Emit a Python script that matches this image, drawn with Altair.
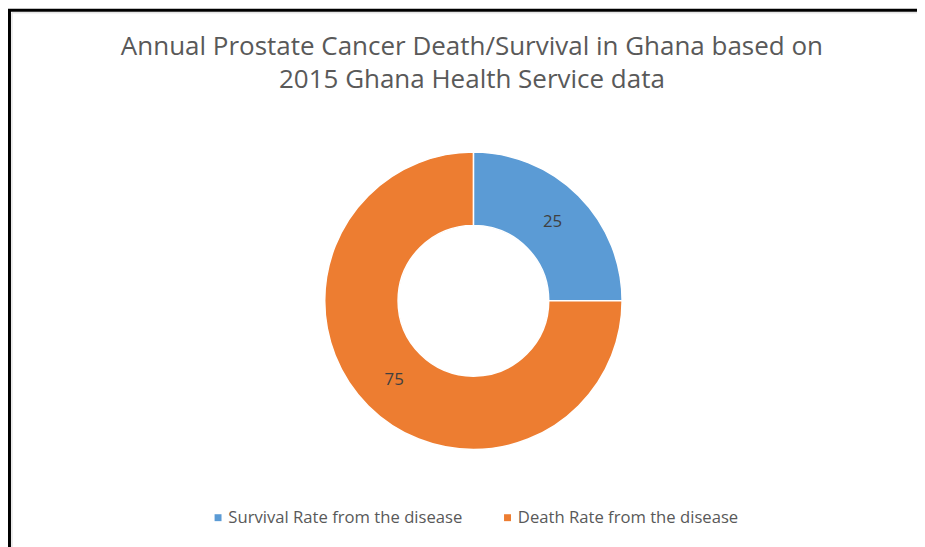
import altair as alt
import pandas as pd

categories = ["Survival Rate from the disease", "Death Rate from the disease"]
values = [25, 75]
order = [1, 2]
colors = ["#5B9BD5", "#ED7D31"]
title_lines = ["Annual Prostate Cancer Death/Survival in Ghana based on",
               "2015 Ghana Health Service data"]

df = pd.DataFrame({"category": categories, "value": values, "order": order})
title_df = pd.DataFrame({"t": [0]})

FONT = "Open Sans"
CX, CY = 469.5, 293

base = alt.Chart(df).encode(
    theta=alt.Theta("value:Q", stack=True),
    order=alt.Order("order:Q"),
)

arcs = base.mark_arc(outerRadius=150, innerRadius=76, stroke="white", strokeWidth=1.5,
                     x=CX, y=CY).encode(
    color=alt.Color("category:N",
                    scale=alt.Scale(domain=categories, range=colors),
                    sort=categories,
                    legend=alt.Legend(title=None, orient="none", direction="horizontal",
                                      legendX=203.5, legendY=503,
                                      symbolType="square", symbolSize=49,
                                      symbolStrokeWidth=0,
                                      labelFont=FONT, labelFontSize=16.8,
                                      labelColor="#595959", labelOffset=2,
                                      labelLimit=0,
                                      columnPadding=37)),
)

labels = base.mark_text(radius=113, x=CX, y=CY, font=FONT, fontSize=17,
                        color="#404040").encode(text="value:Q")

title = alt.Chart(title_df).mark_text(
    text=title_lines, font=FONT, fontSize=26.2, color="#595959", lineHeight=33,
    baseline="alphabetic", align="center"
).encode(x=alt.value(468), y=alt.value(45))

border = alt.Chart(title_df).mark_rect(fill=None, stroke="black", strokeWidth=3).encode(
    x=alt.value(1.5), x2=alt.value(1200), y=alt.value(0), y2=alt.value(1200)
)
inner_line = alt.Chart(title_df).mark_rect(fill=None, stroke="#d9d9d9", strokeWidth=1).encode(
    x=alt.value(4), x2=alt.value(1200), y=alt.value(2.5), y2=alt.value(1200)
)

chart = alt.layer(border, inner_line, title, arcs, labels).properties(
    width=917, height=539,
    padding=0,
    autosize=alt.AutoSizeParams(type="none"),
).configure_view(stroke=None)

chart.save("out.html", embed_options={"renderer": "svg", "actions": False})
